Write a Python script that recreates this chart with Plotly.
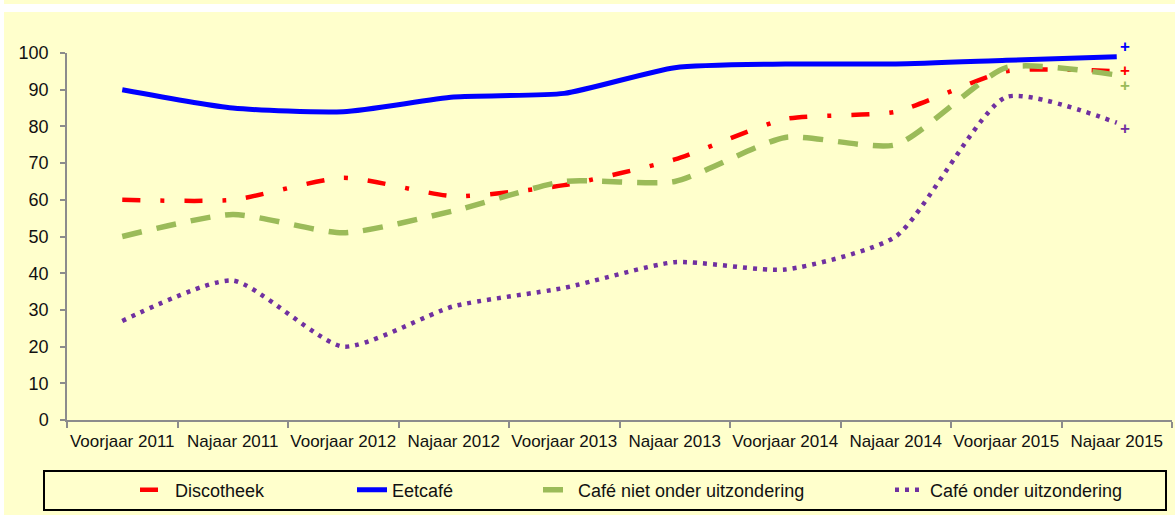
import plotly.graph_objects as go

categories = ["Voorjaar 2011", "Najaar 2011", "Voorjaar 2012", "Najaar 2012", "Voorjaar 2013",
              "Najaar 2013", "Voorjaar 2014", "Najaar 2014", "Voorjaar 2015", "Najaar 2015"]
discotheek = [60, 60, 66, 61, 64, 71, 82, 84, 95, 95]
eetcafe = [90, 85, 84, 88, 89, 96, 97, 97, 98, 99]
cafe_niet = [50, 56, 51, 57, 65, 65, 77, 75, 96, 94]
cafe_onder = [27, 38, 20, 31, 36, 43, 41, 50, 88, 81]
yticks = list(range(0, 101, 10))

FONT = "Liberation Sans, Arial, sans-serif"
BG = "#FFFFCC"

W, H = 1175, 515
L, R, T, B = 67, 3, 53, 95
pw, ph = W - L - R, H - T - B

def fx(px):
    return (px - L) / pw

def fy(py):
    return (H - B - py) / ph

series = [
    ("Discotheek", discotheek, "#FF0000", 4.5, "18px,20px,4px,20px", "legend", 135),
    ("Eetcafé", eetcafe, "#0000FF", 5, "solid", "legend2", 352),
    ("Café niet onder uitzondering", cafe_niet, "#9BBB59", 5.5, "20px,15px", "legend3", 538),
    ("Café onder uitzondering", cafe_onder, "#7030A0", 4.5, "4px,6px", "legend4", 890),
]

fig = go.Figure()
for name, vals, col, w, dash, lg, _ in series:
    fig.add_trace(go.Scatter(
        x=categories, y=vals, name=name, mode="lines",
        line=dict(color=col, width=w, dash=dash, shape="spline", smoothing=0.6),
        legend=lg, hoverinfo="skip"))

layout_legends = {}
for name, vals, col, w, dash, lg, px in series:
    layout_legends[lg] = dict(
        x=fx(px), y=fy(490), xanchor="left", yanchor="middle",
        orientation="h", bgcolor="rgba(0,0,0,0)", borderwidth=0,
        font=dict(family=FONT, size=18, color="#111111"))

# significance markers next to the last observation
shifts = [1, 10, -10, -6]
annotations = []
for (name, vals, col, w, dash, lg, px), ys in zip(series, shifts):
    annotations.append(dict(
        x=categories[-1], y=vals[-1], xref="x", yref="y", text="<b>+</b>",
        showarrow=False, xshift=8, yshift=ys,
        font=dict(family="Liberation Sans, Arial", size=17, color=col)))

shapes = [
    dict(type="rect", xref="paper", yref="paper", x0=fx(4), x1=fx(W), y0=fy(12), y1=fy(H),
         fillcolor=BG, line=dict(width=0), layer="below"),
    dict(type="rect", xref="paper", yref="paper", x0=fx(4), x1=fx(W), y0=fy(0), y1=fy(4),
         fillcolor=BG, line=dict(width=0), layer="below"),
    dict(type="rect", xref="paper", yref="paper", x0=fx(44), x1=fx(1166), y0=fy(471), y1=fy(510),
         fillcolor="rgba(0,0,0,0)", line=dict(color="#000000", width=2), layer="above"),
]

fig.update_layout(
    width=W, height=H,
    margin=dict(l=L, r=R, t=T, b=B, autoexpand=False),
    paper_bgcolor="#FFFFFF", plot_bgcolor="rgba(0,0,0,0)",
    showlegend=True,
    shapes=shapes, annotations=annotations,
    font=dict(family=FONT, size=18, color="#111111"),
    **layout_legends,
)
fig.update_xaxes(
    type="category", tickson="boundaries", range=[-0.5, 9.5],
    showline=True, linecolor="#8C8C8C", linewidth=1.5,
    ticks="outside", ticklen=6, tickcolor="#8C8C8C", tickwidth=1.5,
    showgrid=False, zeroline=False, tickangle=0, automargin=False,
    ticklabelstandoff=5,
    tickfont=dict(family=FONT, size=17, color="#111111"))
fig.update_yaxes(
    range=[0, 100], tickvals=yticks,
    showline=True, linecolor="#8C8C8C", linewidth=1.5,
    ticks="outside", ticklen=5, tickcolor="#8C8C8C", tickwidth=1.5,
    showgrid=False, zeroline=False, ticklabelstandoff=8, automargin=False,
    tickfont=dict(family=FONT, size=18, color="#111111"))

fig.write_html("out.html", config={"displayModeBar": False},
               post_script="document.body.style.margin='0';document.body.style.overflow='hidden';")
